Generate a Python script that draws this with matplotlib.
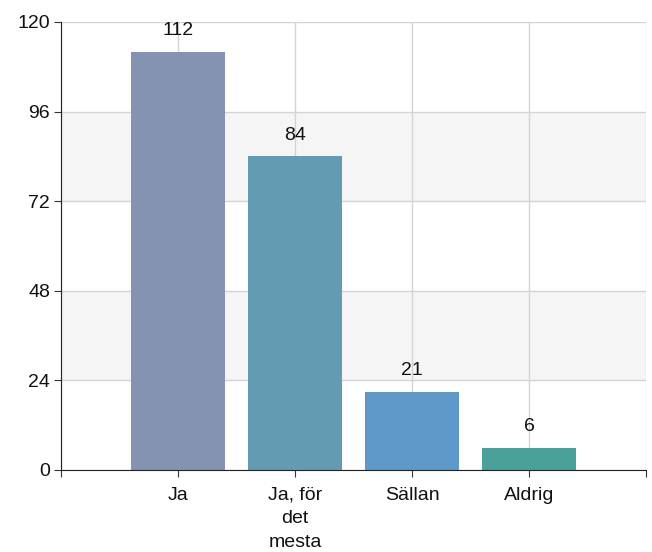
import matplotlib
matplotlib.use('Agg')
from matplotlib import pyplot as plt

categories = ['Ja', 'Ja, för\ndet\nmesta', 'Sällan', 'Aldrig']
values = [112, 84, 21, 6]
colors = ['#8593b2', '#639bb2', '#5e98c9', '#4aa199']
yticks = [0, 24, 48, 72, 96, 120]

plt.rcParams['font.family'] = ['Liberation Sans', 'DejaVu Sans']

fig = plt.figure(figsize=(6.52, 5.52), dpi=100)
ax = fig.add_axes([61/652, 82/552, 585/652, 448/552])

# alternating bands
for lo, hi in [(24, 48), (72, 96)]:
    ax.axhspan(lo, hi, color='#f5f5f5', zorder=0, lw=0)

x = list(range(len(categories)))
ax.bar(x, values, width=0.8, color=colors, zorder=2)

for xi, v in zip(x, values):
    ax.annotate(str(v), (xi, v), xytext=(0, 9), textcoords='offset points',
                ha='center', va='bottom', fontsize=14, color='#111111')

ax.set_xlim(-1, 4)
ax.set_ylim(0, 120)
ax.set_yticks(yticks)
ax.set_xticks([-1] + x + [4])
ax.set_xticklabels([''] + categories + [''], linespacing=1.5)
ax.tick_params(axis='both', labelsize=14, length=5, color='#333333', labelcolor='#111111')
ax.tick_params(axis='x', pad=7)
ax.tick_params(axis='y', pad=3)

ax.grid(True, color='#d4d4d4', linewidth=1, zorder=1)
ax.set_axisbelow(True)
for s in ['top', 'right']:
    ax.spines[s].set_visible(False)
ax.spines['left'].set_color('#222222')
ax.spines['bottom'].set_color('#222222')

fig.savefig('out.png', dpi=100)
